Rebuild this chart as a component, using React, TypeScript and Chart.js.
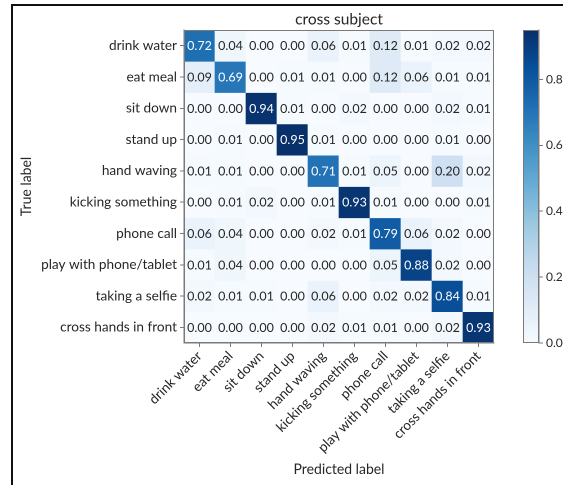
import React, { useEffect, useRef } from "react";
import { Chart, registerables } from "chart.js";

Chart.register(...registerables);
Chart.defaults.font.family = "Lato, 'Open Sans', sans-serif";

const CLASSES = [
  "drink water",
  "eat meal",
  "sit down",
  "stand up",
  "hand waving",
  "kicking something",
  "phone call",
  "play with phone/tablet",
  "taking a selfie",
  "cross hands in front",
];

const ROW_DRINK_WATER = [0.72, 0.04, 0.0, 0.0, 0.06, 0.01, 0.12, 0.01, 0.02, 0.02];
const ROW_EAT_MEAL = [0.09, 0.69, 0.0, 0.01, 0.01, 0.0, 0.12, 0.06, 0.01, 0.01];
const ROW_SIT_DOWN = [0.0, 0.0, 0.94, 0.01, 0.0, 0.02, 0.0, 0.0, 0.02, 0.01];
const ROW_STAND_UP = [0.0, 0.01, 0.0, 0.95, 0.01, 0.0, 0.0, 0.0, 0.01, 0.0];
const ROW_HAND_WAVING = [0.01, 0.01, 0.0, 0.0, 0.71, 0.01, 0.05, 0.0, 0.2, 0.02];
const ROW_KICKING = [0.0, 0.01, 0.02, 0.0, 0.01, 0.93, 0.01, 0.0, 0.0, 0.01];
const ROW_PHONE_CALL = [0.06, 0.04, 0.0, 0.0, 0.02, 0.01, 0.79, 0.06, 0.02, 0.0];
const ROW_PLAY_PHONE = [0.01, 0.04, 0.0, 0.0, 0.0, 0.0, 0.05, 0.88, 0.02, 0.0];
const ROW_SELFIE = [0.02, 0.01, 0.01, 0.0, 0.06, 0.0, 0.02, 0.02, 0.84, 0.01];
const ROW_CROSS_HANDS = [0.0, 0.0, 0.0, 0.0, 0.02, 0.01, 0.01, 0.0, 0.02, 0.93];

const MATRIX = [
  ROW_DRINK_WATER,
  ROW_EAT_MEAL,
  ROW_SIT_DOWN,
  ROW_STAND_UP,
  ROW_HAND_WAVING,
  ROW_KICKING,
  ROW_PHONE_CALL,
  ROW_PLAY_PHONE,
  ROW_SELFIE,
  ROW_CROSS_HANDS,
];

const COLORBAR_TICKS = [0.0, 0.2, 0.4, 0.6, 0.8];
const TITLE = "cross subject";
const X_TITLE = "Predicted label";
const Y_TITLE = "True label";

const VMAX = Math.max(...MATRIX.map((r) => Math.max(...r)));

const BLUES: [number, number, number][] = [
  [247, 251, 255],
  [222, 235, 247],
  [198, 219, 239],
  [158, 202, 225],
  [107, 174, 214],
  [66, 146, 198],
  [33, 113, 181],
  [8, 81, 156],
  [8, 48, 107],
];

function blues(t: number): string {
  const x = Math.min(1, Math.max(0, t)) * (BLUES.length - 1);
  const i = Math.min(BLUES.length - 2, Math.floor(x));
  const f = x - i;
  const a = BLUES[i];
  const b = BLUES[i + 1];
  const c = a.map((v, k) => Math.round(v + (b[k] - v) * f));
  return `rgb(${c[0]},${c[1]},${c[2]})`;
}

const W = 563;
const H = 485;
const PLOT_LEFT = 184;
const PLOT_RIGHT = 494;
const PLOT_TOP = 30;
const PLOT_BOTTOM = 343;
const MAIN_W = 515;
const CB_LEFT = 523;
const CB_W = 16;

const AXIS_COLOR = "#7a7a7a";
const TEXT_COLOR = "#262626";

const matrixPlugin = {
  id: "matrixText",
  afterDatasetsDraw(chart: any) {
    const ctx = chart.ctx;
    ctx.save();
    ctx.font = "12.5px Lato, 'Open Sans', sans-serif";
    ctx.textAlign = "center";
    ctx.textBaseline = "middle";
    MATRIX.forEach((row, i) => {
      const meta = chart.getDatasetMeta(i);
      meta.data.forEach((bar: any, j: number) => {
        const p = bar.getCenterPoint();
        const v = row[j];
        ctx.fillStyle = v > VMAX / 2 ? "#ffffff" : TEXT_COLOR;
        ctx.fillText(v.toFixed(2), p.x, p.y + 0.5);
      });
    });
    const a = chart.chartArea;
    ctx.strokeStyle = AXIS_COLOR;
    ctx.lineWidth = 1;
    ctx.strokeRect(a.left + 0.5, a.top + 0.5, a.right - a.left - 1, a.bottom - a.top - 1);
    ctx.restore();
  },
};

const frameBoxPlugin = {
  id: "cbFrame",
  afterDatasetsDraw(chart: any) {
    const ctx = chart.ctx;
    const a = chart.chartArea;
    ctx.save();
    ctx.strokeStyle = AXIS_COLOR;
    ctx.lineWidth = 1;
    ctx.strokeRect(a.left + 0.5, a.top + 0.5, a.right - a.left - 1, a.bottom - a.top - 1);
    ctx.restore();
  },
};

export default function App() {
  const mainRef = useRef<HTMLCanvasElement>(null);
  const cbRef = useRef<HTMLCanvasElement>(null);

  useEffect(() => {
    const datasets = MATRIX.map((row, i) => ({
      label: CLASSES[i],
      data: row.map(() => 1),
      backgroundColor: row.map((v) => blues(v / VMAX)),
      borderWidth: 0,
      categoryPercentage: 1,
      barPercentage: 1,
    }));

    const main = new Chart(mainRef.current!, {
      type: "bar",
      data: { labels: CLASSES, datasets },
      plugins: [matrixPlugin],
      options: {
        animation: false,
        responsive: false,
        devicePixelRatio: 2,
        layout: { padding: { left: 0, right: MAIN_W - PLOT_RIGHT, top: 0, bottom: 0 } },
        plugins: {
          legend: { display: false },
          tooltip: { enabled: false },
          title: {
            display: true,
            fullSize: false,
            text: TITLE,
            color: TEXT_COLOR,
            font: { size: 15.5, weight: "normal" },
            padding: { top: 10, bottom: 1.4 },
          },
        },
        scales: {
          x: {
            type: "category",
            stacked: true,
            afterFit: (s: any) => {
              s.height = H - PLOT_BOTTOM;
            },
            grid: {
              offset: false,
              drawOnChartArea: false,
              drawTicks: true,
              tickLength: 4,
              color: AXIS_COLOR,
            },
            border: { display: true, color: AXIS_COLOR },
            ticks: {
              autoSkip: false,
              minRotation: 45,
              maxRotation: 45,
              padding: 1,
              color: TEXT_COLOR,
              font: { size: 13.6 },
            },
            title: {
              display: true,
              text: X_TITLE,
              color: TEXT_COLOR,
              font: { size: 14 },
              padding: { top: 0, bottom: 7 },
            },
          },
          y: {
            type: "linear",
            stacked: true,
            min: 0,
            max: CLASSES.length,
            reverse: true,
            afterFit: (s: any) => {
              s.width = PLOT_LEFT;
            },
            afterBuildTicks: (s: any) => {
              s.ticks = CLASSES.map((_, i) => ({ value: i + 0.5 }));
            },
            grid: {
              drawOnChartArea: false,
              drawTicks: true,
              tickLength: 4,
              color: AXIS_COLOR,
            },
            border: { display: true, color: AXIS_COLOR },
            ticks: {
              padding: 3,
              color: TEXT_COLOR,
              font: { size: 13.6 },
              callback: (_v: any, idx: number) => CLASSES[idx],
            },
            title: {
              display: true,
              text: Y_TITLE,
              color: TEXT_COLOR,
              font: { size: 14 },
              padding: { top: 18, bottom: 0 },
            },
          },
        },
      } as any,
    });

    const cb = new Chart(cbRef.current!, {
      type: "bar",
      data: {
        labels: ["cb"],
        datasets: [
          {
            data: [[0, VMAX]] as any,
            borderWidth: 0,
            categoryPercentage: 1,
            barPercentage: 1,
            backgroundColor: (c: any) => {
              const area = c.chart.chartArea;
              if (!area) return blues(0);
              const g = c.chart.ctx.createLinearGradient(0, area.bottom, 0, area.top);
              BLUES.forEach((rgb, k) =>
                g.addColorStop(k / (BLUES.length - 1), `rgb(${rgb[0]},${rgb[1]},${rgb[2]})`)
              );
              return g;
            },
          },
        ],
      },
      plugins: [frameBoxPlugin],
      options: {
        animation: false,
        responsive: false,
        devicePixelRatio: 2,
        layout: { padding: { left: 0, right: 0, top: PLOT_TOP, bottom: H - PLOT_BOTTOM } },
        plugins: { legend: { display: false }, tooltip: { enabled: false }, title: { display: false } },
        scales: {
          x: { display: false },
          y: {
            position: "right",
            min: 0,
            max: VMAX,
            afterFit: (s: any) => {
              s.width = W - CB_LEFT - CB_W;
            },
            afterBuildTicks: (s: any) => {
              s.ticks = COLORBAR_TICKS.map((v) => ({ value: v }));
            },
            grid: {
              drawOnChartArea: false,
              drawTicks: true,
              tickLength: 4,
              color: AXIS_COLOR,
            },
            border: { display: true, color: AXIS_COLOR },
            ticks: {
              padding: 3,
              color: TEXT_COLOR,
              font: { size: 12 },
              callback: (v: any) => Number(v).toFixed(1),
            },
          },
        },
      } as any,
    });

    return () => {
      main.destroy();
      cb.destroy();
    };
  }, []);

  return (
    <div
      style={{
        position: "fixed",
        left: 0,
        top: 0,
        width: W,
        height: H,
        background: "#ffffff",
        overflow: "hidden",
      }}
    >
      <div
        style={{
          position: "absolute",
          left: 11,
          top: 4,
          width: W - 11,
          height: H - 4,
          borderLeft: "2px solid #111",
          borderTop: "2px solid #111",
          boxSizing: "border-box",
        }}
      />
      <canvas
        ref={mainRef}
        width={MAIN_W}
        height={H}
        style={{ position: "absolute", left: 0, top: 0, width: MAIN_W, height: H }}
      />
      <canvas
        ref={cbRef}
        width={W - CB_LEFT}
        height={H}
        style={{ position: "absolute", left: CB_LEFT, top: 0, width: W - CB_LEFT, height: H }}
      />
    </div>
  );
}
